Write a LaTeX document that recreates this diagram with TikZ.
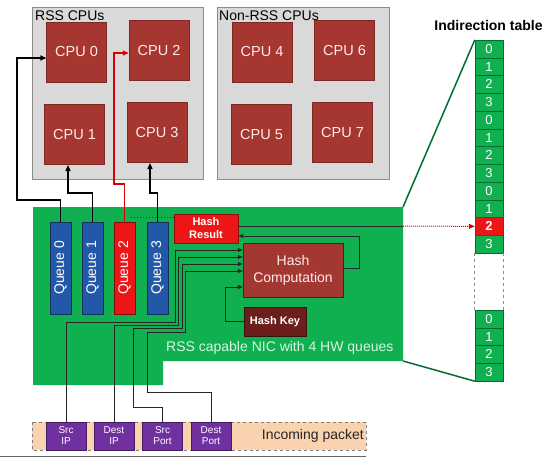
\documentclass[tikz,border=0pt]{standalone}
\usepackage{fontspec}
\usepackage{graphicx}
\setmainfont{Liberation Sans}
\usetikzlibrary{arrows.meta}
\definecolor{cpured}{RGB}{166,54,48}
\definecolor{boxgray}{RGB}{217,217,217}
\definecolor{boxborder}{RGB}{140,140,140}
\definecolor{nicgreen}{RGB}{16,176,80}
\definecolor{darkgreen}{RGB}{0,110,50}
\definecolor{qblue}{RGB}{33,88,168}
\definecolor{hred}{RGB}{236,22,22}
\definecolor{hcbrown}{RGB}{163,55,50}
\definecolor{hkbrown}{RGB}{108,30,28}
\definecolor{fpurple}{RGB}{112,48,160}
\definecolor{peach}{RGB}{250,210,175}
\definecolor{nictext}{RGB}{215,245,225}
\begin{document}
\begin{tikzpicture}[x=1pt,y=-1pt,
  cpu/.style={fill=cpured, draw=cpured!75!black, minimum width=60pt, minimum height=60pt, inner sep=0pt, text=white!92!red, font=\fontsize{14.5}{16}\selectfont},
  queue/.style={fill=#1, draw=#1!55!black, minimum width=21pt, minimum height=92pt, inner sep=0pt, text=white, font=\fontsize{14}{16}\selectfont},
  cell/.style={fill=#1, draw=darkgreen, minimum width=28pt, minimum height=17.75pt, inner sep=0pt, text=white, font=\fontsize{13}{13}\selectfont},
  field/.style={fill=fpurple, draw=fpurple!60!black, minimum width=40pt, minimum height=28pt, inner sep=0pt, text=white, align=center, font=\fontsize{10}{11}\selectfont},
  wire/.style={draw=black!85, line width=0.8pt},
  cpuarrow/.style={draw=black, line width=1.4pt, -{Triangle[length=6pt,width=5pt]}},
  inarrow/.style={wire, -{Triangle[length=5pt,width=4pt]}},
  lbl/.style={inner sep=0pt, font=\fontsize{14}{16}\selectfont}]
\useasboundingbox (0,0) rectangle (552,458);

% CPU groups
\draw[fill=boxgray, draw=boxborder, line width=1pt] (32,7) rectangle (203,179);
\draw[fill=boxgray, draw=boxborder, line width=1pt] (217,7) rectangle (389,179);
\node[lbl, anchor=north west] (rsslbl) at (35,11) {RSS CPUs};
\node[lbl, anchor=north west] (nonrsslbl) at (219,11) {Non-RSS CPUs};
\node[cpu] (cpu0) at (76.5,52) {CPU 0};
\node[cpu] (cpu2) at (159,50.5) {CPU 2};
\node[cpu] (cpu1) at (74.5,134.5) {CPU 1};
\node[cpu] (cpu3) at (157,132.5) {CPU 3};
\node[cpu] (cpu4) at (262,52) {CPU 4};
\node[cpu] (cpu6) at (344.5,50.5) {CPU 6};
\node[cpu] (cpu5) at (261.5,134.5) {CPU 5};
\node[cpu] (cpu7) at (342.5,132.5) {CPU 7};

% NIC board
\fill[nicgreen] (33,207) -- (403,207) -- (403,361) -- (163,361) -- (163,385) -- (33,385) -- cycle;

% Indirection table
\node[font=\bfseries\fontsize{14}{16}\selectfont, inner sep=0pt] (ttitle) at (488.5,25) {Indirection table};
\foreach \v/\f [count=\i from 0] in {0/nicgreen,1/nicgreen,2/nicgreen,3/nicgreen,0/nicgreen,1/nicgreen,2/nicgreen,3/nicgreen,0/nicgreen,1/nicgreen,{\bfseries 2}/hred,3/nicgreen}
  \node[cell=\f] (t\i) at (489,{48.875+17.75*\i}) {\v};
\foreach \v [count=\i from 0] in {0,1,2,3}
  \node[cell=nicgreen] (b\i) at (489,{318.875+17.75*\i}) {\v};
\draw[black!45, dashed, line width=0.8pt] (t11.south west) -- (b0.north west);
\draw[black!45, dashed, line width=0.8pt] (t11.south east) -- (b0.north east);
\draw[darkgreen, line width=1.5pt] (403,207) -- (t0.north west);
\draw[darkgreen, line width=1.5pt] (403,361) -- (b3.south west);

% Queues
\node[queue=qblue] (q0) at (60.5,268) {\rotatebox{90}{Queue 0}};
\node[queue=qblue] (q1) at (92.5,268) {\rotatebox{90}{Queue 1}};
\node[queue=hred] (q2) at (124.5,268) {\rotatebox{90}{Queue 2}};
\node[queue=qblue] (q3) at (157.5,268) {\rotatebox{90}{Queue 3}};

% Hash blocks
\node[fill=hred, draw=hred!60!black, minimum width=64pt, minimum height=29pt, inner sep=0pt, text=white, align=center, font=\bfseries\fontsize{11}{13}\selectfont] (hr) at (206,228.5) {Hash\\Result};
\node[fill=hcbrown, draw=hcbrown!50!black, minimum width=100pt, minimum height=54pt, inner sep=0pt, text=white!92!red, align=center, font=\fontsize{14}{17}\selectfont] (hc) at (293,270) {Hash\\Computation};
\node[fill=hkbrown, draw=hkbrown!50!black, minimum width=62pt, minimum height=29pt, inner sep=0pt, text=white, font=\bfseries\fontsize{11}{13}\selectfont] (hk) at (275,321.5) {Hash Key};
\node[lbl, anchor=west, text=nictext] (niclbl) at (166,348) {RSS capable NIC with 4 HW queues};

% Queue -> CPU connectors
\draw[cpuarrow] (q0.north) |- (17,200) |- (cpu0.west |- 0,58);
\draw[cpuarrow] (q1.north) |- (68,193) -- (68,165);
\draw[draw=red!85!black, line width=1.2pt, -{Triangle[length=6pt,width=5pt]}, color=red!85!black] (q2.north) |- (114,184) |- (cpu2.west |- 0,53);
\draw[cpuarrow] (q3.north) |- (150,193) -- (150,163);

% Hash connectors
\draw[black!80, dotted, line width=1pt] (hr.west |- 0,217) -- (130,217);
\draw[wire] (hr.east |- 0,226) -- (403,226) coordinate (nicedge);
\draw[red!80!black, densely dotted, line width=1pt, -{Triangle[length=6pt,width=5pt]}] (nicedge) -- (t10.west);
\draw[draw=black!85, line width=0.8pt, -{Triangle[length=5pt,width=4pt]}] (hc.east |- 0,268) -- (359,268) |- (hr.east |- 0,236);
\draw[inarrow] (hk.west) -| (225,287) -- (hc.west |- 0,287);

% Incoming packet
\draw[black!60, line width=0.8pt] (0,456.5) -- (366,456.5);
\draw[fill=peach, draw=black!50, dashed, line width=0.8pt] (32,422) rectangle (366,450);
\node[lbl, anchor=east, text=black!85] (inlbl) at (364,436) {Incoming packet};
\node[field] (sip) at (66,436) {Src\\IP};
\node[field] (dip) at (114,436) {Dest\\IP};
\node[field] (sport) at (162.5,436) {Src\\Port};
\node[field] (dport) at (211,436) {Dest\\Port};

% Packet fields -> Hash computation
\draw[inarrow] (sip.north) |- (175,322) |- (hc.west |- 0,250);
\draw[inarrow] (dip.north) |- (178,325) |- (hc.west |- 0,257);
\draw[inarrow] (sport.north) |- (133,407) |- (182,328) |- (hc.west |- 0,264);
\draw[inarrow] (dport.north) |- (147,392) |- (185,332) |- (hc.west |- 0,271);
\end{tikzpicture}
\end{document}
